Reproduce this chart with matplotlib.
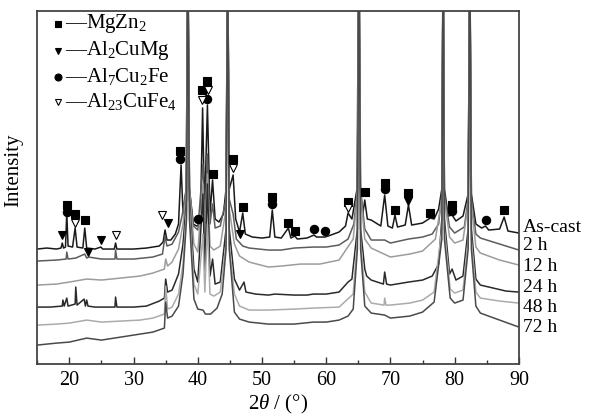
import numpy as np
import matplotlib
matplotlib.use('Agg')
import matplotlib.pyplot as plt

plt.rcParams['font.family'] = ['Liberation Serif', 'DejaVu Serif']
plt.rcParams['mathtext.fontset'] = 'custom'
plt.rcParams['mathtext.rm'] = 'Liberation Serif'
plt.rcParams['mathtext.it'] = 'Liberation Serif:italic'

# XRD patterns, offset intensities (arb. units)
ascast_x = [15.0, 16.5, 18.0, 18.7, 18.9, 19.1, 19.4, 19.6, 19.8, 20.5, 20.9, 21.2, 22.1, 22.4, 22.7,
            24.0, 24.9, 25.2, 27.0, 27.2, 27.4, 30.0, 32.0, 34.0, 34.6, 34.9, 35.2, 35.8, 36.5, 37.0,
            37.4, 37.7, 38.2, 38.45, 38.7, 39.3, 39.8, 40.1, 40.4, 40.75, 41.05, 41.5, 41.9, 42.3, 42.7,
            43.3, 44.0, 44.4, 44.65, 44.9, 45.5, 45.9, 46.5, 47.0, 47.4, 48.5, 50.0, 51.2, 51.6, 52.0,
            53.0, 54.1, 54.5, 55.1, 55.5, 57.0, 58.1, 58.5, 59.8, 60.3, 62.0, 63.0, 63.4, 64.0, 64.8,
            65.05, 65.3, 65.7, 66.0, 66.4, 67.0, 68.5, 69.1, 69.6, 70.3, 70.7, 71.1, 72.3, 72.8, 73.3,
            75.0, 76.2, 76.8, 77.5, 78.0, 78.2, 78.4, 79.0, 79.6, 80.2, 81.3, 82.1, 82.35, 82.6, 83.3,
            84.2, 84.8, 85.3, 87.0, 87.7, 88.3, 90.0]
ascast_y = [115, 116, 115, 116, 121, 116, 117, 151, 118, 117, 136, 117, 116, 136, 116,
            115, 117, 115, 115, 121, 115, 115, 116, 118, 122, 134, 124, 124, 130, 140,
            199, 150, 175, 420, 175, 140, 138, 139, 140, 256, 150, 259, 150, 184, 145,
            142, 150, 175, 420, 175, 189, 145, 132, 151, 130, 127, 126, 127, 154, 127,
            126, 136, 126, 128, 125, 126, 129, 127, 127, 128, 132, 138, 151, 145, 175,
            420, 175, 150, 164, 145, 144, 138, 169, 138, 136, 149, 137, 139, 159, 139,
            141, 146, 145, 155, 175, 420, 175, 148, 149, 143, 148, 170, 420, 170, 140,
            136, 138, 134, 135, 147, 133, 131]

h2_x = [15, 18, 19.5, 19.6, 19.8, 21, 22.4, 22.7, 23, 25, 27.1, 27.2, 27.4, 30, 33, 34.5, 34.9, 35.2,
        36, 37, 37.6, 38.2, 38.45, 38.7, 39.3, 40, 40.8, 41.1, 41.5, 41.9, 42.3, 42.7, 43.5, 44.4,
        44.65, 44.9, 45.5, 46, 47, 48, 51, 53, 55, 58, 60, 62, 63.4, 64.3, 64.85, 65.1, 65.35, 66, 67,
        69.1, 70, 72.8, 75, 76.5, 77.5, 78.0, 78.2, 78.4, 79.2, 80, 81.5, 82.1, 82.35, 82.6, 83.3,
        84, 86, 88, 90]
h2_y = [103, 104, 105, 112, 105, 106, 110, 106, 107, 105, 105, 114, 105, 105, 107, 110, 128, 118,
        120, 132, 150, 175, 420, 175, 138, 134, 200, 140, 210, 140, 160, 136, 138, 165,
        420, 165, 150, 125, 118, 116, 114, 114, 116, 117, 117, 119, 125, 140, 175, 420, 175, 135, 124,
        124, 121, 125, 127, 130, 140, 170, 420, 170, 137, 131, 137, 165, 420, 165, 130,
        126, 122, 118, 114]

h12_x = [15, 18, 20, 22.7, 25, 28, 31, 33, 34.8, 35, 35.3, 36, 37, 37.7, 38.25, 38.45, 38.7, 39.4, 40,
         40.8, 41.1, 41.5, 41.9, 42.5, 43.5, 44.4, 44.65, 44.9, 45.7, 46.5, 48, 51, 53, 56, 59, 62,
         64.2, 64.85, 65.1, 65.35, 66, 67, 70, 73, 75, 77, 78.0, 78.2, 78.4, 79.2, 80, 81.3, 82.1,
         82.35, 82.6, 83.3, 84, 87, 90]
h12_y = [79, 80, 82, 85, 84, 86, 88, 91, 95, 105, 98, 102, 115, 140, 175, 420, 175, 120, 112,
         180, 118, 190, 118, 114, 118, 155, 420, 155, 120, 108, 102, 97, 98, 100, 100, 104,
         125, 170, 420, 170, 125, 116, 107, 110, 113, 125, 165, 420, 165, 127, 121, 124, 160,
         420, 160, 117, 111, 104, 99]

h24_x = [15, 17, 18.9, 19.0, 19.2, 19.6, 19.8, 20.9, 21.0, 21.2, 22.3, 22.5, 22.7, 22.9, 24, 27.1,
         27.2, 27.4, 30, 32, 34, 34.8, 35.0, 35.3, 36, 37, 37.7, 38.25, 38.45, 38.7, 39.4, 40, 40.8,
         41.1, 41.5, 41.9, 42.3, 42.7, 43.5, 44.4, 44.65, 44.9, 45.7, 46.5, 47.2, 47.5, 49, 51, 52,
         55, 57, 58, 60, 62, 63.4, 64, 64.85, 65.1, 65.35, 66, 66.3, 67, 68.9, 69.1, 69.4, 70, 72.8,
         75, 76.5, 77.5, 78.0, 78.2, 78.4, 79.2, 79.6, 80.2, 81.3, 82.1, 82.35, 82.6, 83.3, 84, 86,
         88, 90]
h24_y = [57, 57, 58, 64, 58, 66, 58, 60, 77, 59, 65, 58, 64, 58, 57, 57,
         67, 57, 57, 58, 63, 66, 85, 72, 74, 90, 120, 165, 420, 165, 95, 82, 170,
         90, 180, 88, 105, 80, 82, 135, 420, 135, 85, 74, 82, 72, 70, 69, 70,
         69, 69, 70, 70, 72, 82, 85, 135, 420, 135, 95, 88, 84, 80, 92, 80, 79, 82,
         84, 88, 100, 145, 420, 145, 90, 95, 84, 88, 135, 420, 135, 85, 79, 76,
         73, 72]

h48_x = [15, 18, 20, 22.7, 25, 28, 31, 33, 34.8, 35.0, 35.3, 36, 37, 37.7, 38.25, 38.45, 38.7, 39.4,
         40, 40.8, 41.1, 41.5, 41.9, 42.5, 43.5, 44.4, 44.65, 44.9, 45.7, 46.5, 48, 51, 55, 58, 62,
         64.2, 64.85, 65.1, 65.35, 66, 67, 69.0, 69.1, 69.3, 70, 73, 75, 76.8, 78.0, 78.2, 78.4, 79.3,
         80, 81.3, 82.1, 82.35, 82.6, 83.3, 84, 87, 90]
h48_y = [39, 40, 41, 44, 42, 43, 44, 46, 50, 78, 55, 57, 70, 100, 155, 420, 155, 80,
         70, 130, 72, 140, 70, 68, 72, 120, 420, 120, 70, 58, 54, 54, 55, 56, 57,
         70, 125, 420, 125, 72, 61, 59, 66, 59, 59, 61, 64, 72, 135, 420, 135, 75,
         71, 74, 125, 420, 125, 72, 66, 63, 61]

h72_x = [15, 18, 20, 22.7, 25, 28, 31, 33, 34.8, 35.0, 35.3, 36, 37, 37.7, 38.25, 38.45, 38.7, 39.4,
         40, 40.8, 41.2, 42, 43, 43.8, 44.4, 44.65, 44.9, 45.7, 46.5, 48, 51, 55, 58, 60, 62, 63.4,
         64.2, 64.85, 65.1, 65.35, 66, 67, 69.1, 70, 73, 75, 76.8, 78.0, 78.2, 78.4, 79.3, 80, 81.3,
         82.1, 82.35, 82.6, 83.3, 84, 87, 90]
h72_y = [19, 21, 22, 26, 24, 27, 30, 32, 36, 62, 46, 48, 58, 90, 145, 420, 145, 65,
         55, 54, 50, 50, 56, 70, 115, 420, 115, 52, 45, 42, 40, 40, 42, 42, 44, 48,
         55, 115, 420, 115, 58, 51, 49, 46, 48, 52, 62, 125, 420, 125, 66, 61, 64,
         115, 420, 115, 58, 51, 44, 37]

series_names = ['As-cast', '2 h', '12 h', '24 h', '48 h', '72 h']
series_x = [ascast_x, h2_x, h12_x, h24_x, h48_x, h72_x]
series_y = [ascast_y, h2_y, h12_y, h24_y, h48_y, h72_y]
label_y = [137, 119, 98, 77, 57, 37]
colors = ['#1a1a1a', '#5c5c5c', '#9c9c9c', '#2a2a2a', '#ababab', '#4a4a4a']

# phase markers (2theta, height)
mgzn2 = [(19.6, 159), (20.9, 150), (22.4, 144), (37.3, 213), (40.6, 274), (41.5, 283), (42.3, 190),
         (45.5, 205), (47.0, 157), (51.6, 167), (54.1, 141), (55.1, 133), (63.4, 162), (66.0, 172),
         (69.1, 181), (70.7, 154), (72.8, 171), (76.2, 151), (79.6, 159), (87.7, 154)]
al2cumg = [(18.9, 129), (22.9, 112), (24.9, 124), (35.3, 141), (46.6, 130), (72.8, 163)]
al7cu2fe = [(19.6, 152), (37.3, 205), (40.1, 145), (41.5, 265), (51.6, 160), (58.1, 135),
            (59.8, 133), (69.1, 175), (79.6, 153), (84.8, 144)]
al23cufe4 = [(20.9, 141), (27.2, 129), (34.4, 149), (40.6, 264), (41.6, 274), (45.5, 196), (63.4, 156)]

fig = plt.figure(figsize=(5.91, 4.19), dpi=100)
ax = fig.add_axes([0.063, 0.131, 0.815, 0.843])

for xs, ys, c in zip(series_x, series_y, colors):
    ax.plot(xs, ys, color=c, lw=1.1)

for pts, m, fc in [(mgzn2, 's', 'k'), (al2cumg, 'v', 'k'), (al7cu2fe, 'o', 'k'), (al23cufe4, 'v', 'white')]:
    px, py = zip(*pts)
    ax.plot(px, py, ls='none', marker=m, ms=6, mfc=fc, mec='k', mew=0.8, zorder=5)

for name, yy in zip(series_names, label_y):
    ax.text(90.6, yy, name, fontsize=14, va='center', ha='left', clip_on=False)

# legend drawn as text with markers
leg_names = ['—MgZn$_2$', '—Al$_2$CuMg', '—Al$_7$Cu$_2$Fe', '—Al$_{23}$CuFe$_4$']
leg_marks = [('s', 'k'), ('v', 'k'), ('o', 'k'), ('v', 'white')]
leg_y = [340, 313, 287, 262]
for nm, (m, fc), yy in zip(leg_names, leg_marks, leg_y):
    ax.plot([18.3], [yy], ls='none', marker=m, ms=5, mfc=fc, mec='k', mew=0.8)
    ax.text(19.3, yy, nm, fontsize=15, va='center', ha='left')

ax.set_xlim(15, 90)
ax.set_ylim(0, 353)
ax.set_xticks([20, 30, 40, 50, 60, 70, 80, 90])
ax.set_xticks(np.arange(15, 91, 5), minor=True)
ax.set_yticks([])
ax.tick_params(axis='x', direction='in', length=5, width=1, labelsize=14.5, pad=5, colors='#333333', labelcolor='k')
ax.tick_params(axis='x', which='minor', direction='in', length=3, width=1, colors='#333333')
for s in ax.spines.values():
    s.set_linewidth(1.3)
    s.set_color('#444444')
ax.set_xlabel(r'2$\theta$ / (°)', fontsize=15, labelpad=2)
ax.set_ylabel('Intensity', fontsize=15)
ax.yaxis.set_label_coords(-0.03, 0.55)

plt.savefig('out.png', dpi=100)
